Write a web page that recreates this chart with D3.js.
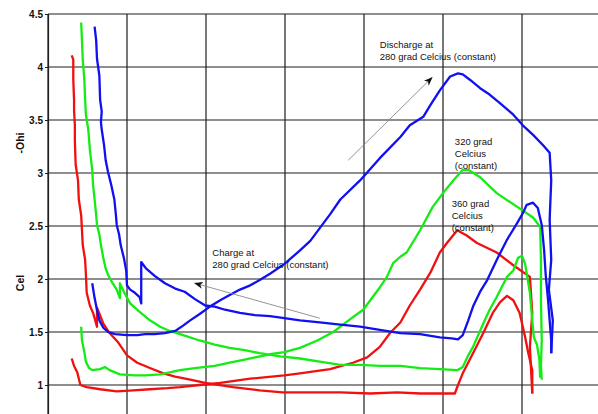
<!DOCTYPE html>
<html>
<head>
<meta charset="utf-8">
<script src="https://cdn.jsdelivr.net/npm/d3@7"></script>
<style>
  body { margin: 0; background: #fff; }
  svg { display: block; font-family: Arial, "Liberation Sans", sans-serif; }
</style>
</head>
<body>
<div id="chart"></div>
<script>
// ── Data (x in grid units, y in cell ohm) ───────────────────────────────────
const blueCharge = [
  [0.59,4.38],[0.61,4.25],[0.62,4.08],[0.65,3.92],[0.66,3.69],[0.68,3.58],[0.67,3.48],
  [0.68,3.41],[0.71,3.26],[0.73,3.12],[0.76,3.01],[0.80,2.89],[0.84,2.75],[0.86,2.60],
  [0.87,2.51],[0.90,2.42],[0.92,2.32],[0.96,2.20],[0.99,2.08],[1.00,1.94],[1.04,1.90],
  [1.10,1.87],[1.16,1.83],[1.18,1.77],[1.18,2.16],[1.24,2.10],[1.35,2.03],[1.48,1.96],
  [1.61,1.91],[1.73,1.88],[1.86,1.81],[1.99,1.75],[2.11,1.74],[2.24,1.71],[2.43,1.68],
  [2.62,1.66],[2.81,1.65],[2.99,1.63],[3.19,1.61],[3.44,1.59],[3.70,1.57],[3.95,1.55],
  [4.20,1.52],[4.46,1.49],[4.71,1.48],[4.96,1.45],[5.11,1.44],[5.19,1.43],[5.25,1.47],
  [5.32,1.61],[5.38,1.74],[5.47,1.88],[5.56,1.99],[5.68,2.18],[5.81,2.37],[5.94,2.53],
  [6.01,2.62],[6.06,2.70],[6.14,2.72],[6.20,2.67],[6.25,2.51],[6.28,2.27],[6.30,2.04],
  [6.33,1.80],[6.35,1.61],[6.37,1.42],[6.37,1.30]
];
const blueDischarge = [
  [0.56,1.96],[0.59,1.82],[0.62,1.71],[0.65,1.61],[0.70,1.54],[0.76,1.50],[0.85,1.48],
  [1.00,1.47],[1.13,1.47],[1.23,1.48],[1.35,1.48],[1.48,1.49],[1.61,1.51],[1.71,1.56],
  [1.80,1.61],[1.92,1.67],[2.05,1.74],[2.18,1.80],[2.30,1.85],[2.43,1.90],[2.56,1.94],
  [2.68,1.99],[2.81,2.05],[2.99,2.14],[3.19,2.27],[3.32,2.36],[3.44,2.48],[3.57,2.61],
  [3.70,2.75],[3.95,2.93],[4.20,3.14],[4.46,3.34],[4.58,3.45],[4.75,3.53],[4.84,3.64],
  [4.96,3.78],[5.09,3.91],[5.19,3.94],[5.25,3.93],[5.34,3.88],[5.47,3.80],[5.59,3.74],
  [5.72,3.66],[5.89,3.55],[6.01,3.45],[6.14,3.36],[6.27,3.26],[6.35,3.19],[6.37,2.93],
  [6.35,2.56],[6.37,2.18],[6.34,1.90],[6.39,1.61],[6.37,1.30]
];
const greenCharge = [
  [0.42,4.42],[0.43,4.25],[0.44,4.07],[0.46,3.88],[0.47,3.69],[0.48,3.55],[0.51,3.41],
  [0.53,3.22],[0.56,3.03],[0.57,2.89],[0.59,2.75],[0.61,2.60],[0.62,2.51],[0.65,2.42],
  [0.67,2.32],[0.70,2.20],[0.73,2.10],[0.76,2.04],[0.81,1.97],[0.87,1.90],[0.91,1.82],
  [0.91,1.96],[0.96,1.88],[1.04,1.77],[1.16,1.69],[1.29,1.61],[1.42,1.55],[1.54,1.51],
  [1.67,1.48],[1.92,1.42],[2.11,1.38],[2.30,1.35],[2.49,1.33],[2.68,1.30],[2.94,1.27],
  [3.19,1.25],[3.44,1.22],[3.70,1.19],[3.95,1.19],[4.20,1.18],[4.46,1.18],[4.71,1.16],
  [4.96,1.15],[5.18,1.14],[5.25,1.17],[5.32,1.28],[5.38,1.36],[5.51,1.58],[5.59,1.71],
  [5.68,1.83],[5.81,2.02],[5.89,2.08],[5.95,2.20],[6.00,2.22],[6.04,2.14],[6.10,1.87],
  [6.13,1.61],[6.15,1.45],[6.19,1.38],[6.22,1.24],[6.23,1.07]
];
const greenDischarge = [
  [0.42,1.55],[0.43,1.42],[0.46,1.31],[0.48,1.22],[0.52,1.16],[0.56,1.14],[0.66,1.15],
  [0.72,1.17],[0.78,1.14],[0.91,1.10],[1.10,1.09],[1.23,1.09],[1.42,1.10],[1.54,1.12],
  [1.67,1.14],[1.86,1.16],[2.11,1.18],[2.30,1.21],[2.49,1.24],[2.62,1.26],[2.81,1.29],
  [2.99,1.31],[3.19,1.35],[3.41,1.42],[3.61,1.50],[3.86,1.64],[3.99,1.71],[4.08,1.80],
  [4.20,1.92],[4.29,2.02],[4.37,2.15],[4.46,2.21],[4.54,2.25],[4.71,2.46],[4.87,2.68],
  [5.00,2.81],[5.13,2.93],[5.25,3.03],[5.32,3.03],[5.47,2.96],[5.68,2.81],[5.94,2.68],
  [6.14,2.58],[6.23,2.49],[6.24,2.18],[6.24,1.80],[6.25,1.42],[6.24,1.19],[6.25,1.05]
];
const redCharge = [
  [0.30,4.11],[0.32,4.07],[0.32,3.88],[0.33,3.69],[0.33,3.59],[0.34,3.45],[0.34,3.31],
  [0.35,3.08],[0.38,2.93],[0.39,2.75],[0.42,2.60],[0.43,2.46],[0.44,2.32],[0.47,2.18],
  [0.48,2.04],[0.49,1.87],[0.53,1.75],[0.57,1.68],[0.59,1.63],[0.62,1.55],[0.62,1.73],
  [0.70,1.58],[0.78,1.49],[0.89,1.40],[1.00,1.28],[1.13,1.21],[1.29,1.16],[1.46,1.11],
  [1.61,1.08],[1.80,1.05],[1.99,1.02],[2.34,0.98],[2.68,0.95],[2.97,0.93],[3.44,0.93],
  [3.70,0.93],[4.08,0.92],[4.42,0.93],[4.71,0.92],[4.96,0.92],[5.15,0.92],[5.19,1.00],
  [5.25,1.11],[5.38,1.30],[5.51,1.49],[5.63,1.68],[5.72,1.78],[5.81,1.84],[5.89,1.80],
  [5.97,1.68],[6.04,1.45],[6.08,1.30],[6.13,1.14],[6.13,0.92]
];
const redDischarge = [
  [0.30,1.25],[0.33,1.18],[0.37,1.12],[0.41,1.00],[0.49,0.98],[0.66,0.96],[0.87,0.94],
  [1.08,0.95],[1.29,0.96],[1.51,0.97],[1.67,0.98],[1.92,1.00],[2.18,1.02],[2.56,1.06],
  [2.99,1.09],[3.19,1.11],[3.57,1.15],[3.86,1.21],[4.04,1.26],[4.20,1.36],[4.33,1.49],
  [4.46,1.59],[4.58,1.75],[4.71,1.90],[4.84,2.06],[4.96,2.25],[5.05,2.34],[5.18,2.46],
  [5.30,2.41],[5.43,2.34],[5.68,2.25],[5.89,2.13],[6.10,2.02],[6.13,1.68],[6.10,1.36],
  [6.13,0.92]
];

const yTicks = [1, 1.5, 2, 2.5, 3, 3.5, 4, 4.5];
const xGrid  = [0, 1, 2, 3, 4, 5, 6, 7];
const yGrid  = [0.5, 1, 1.5, 2, 2.5, 3, 3.5, 4, 4.5];

// annotation texts, anchored in data units
const notes = [
  { x: 4.20, y: 4.175, lines: ['Discharge at', '280 grad Celcius (constant)'] },
  { x: 2.08, y: 2.22,  lines: ['Charge at', '280 grad Celcius (constant)'] },
  { x: 5.15, y: 3.26,  lines: ['320 grad', 'Celcius', '(constant)'] },
  { x: 5.11, y: 2.68,  lines: ['360 grad', 'Celcius', '(constant)'] },
];
const arrows = [
  { from: [3.80, 3.12], to: [4.86, 3.90] },
  { from: [3.44, 1.63], to: [1.86, 1.96] },
];

const series = [
  { data: redDischarge,   color: '#f01010' },
  { data: redCharge,      color: '#f01010' },
  { data: greenDischarge, color: '#14ec14' },
  { data: greenCharge,    color: '#14ec14' },
  { data: blueDischarge,  color: '#1010f0' },
  { data: blueCharge,     color: '#1010f0' },
];

// ── Layout ──────────────────────────────────────────────────────────────────
const W = 598, H = 414;
const x = d3.scaleLinear().domain([0, 7]).range([48, 601]);
const y = d3.scaleLinear().domain([0.5, 4.5]).range([438, 14]);

const svg = d3.select('#chart').append('svg').attr('width', W).attr('height', H);
svg.append('rect').attr('width', W).attr('height', H).attr('fill', '#fff');

// ── Grid ────────────────────────────────────────────────────────────────────
svg.append('g').selectAll('line').data(xGrid).join('line')
  .attr('x1', d => x(d)).attr('x2', d => x(d))
  .attr('y1', y(4.5)).attr('y2', y(0.5))
  .attr('stroke', '#1e1e1e').attr('stroke-width', 1.2);
svg.append('g').selectAll('line').data(yGrid).join('line')
  .attr('x1', x(0)).attr('x2', x(7))
  .attr('y1', d => y(d)).attr('y2', d => y(d))
  .attr('stroke', '#1e1e1e').attr('stroke-width', 1.2);

// ── Curves ──────────────────────────────────────────────────────────────────
const line = d3.line().x(d => x(d[0])).y(d => y(d[1]));
svg.append('g').selectAll('path').data(series).join('path')
  .attr('d', d => line(d.data))
  .attr('fill', 'none')
  .attr('stroke', d => d.color)
  .attr('stroke-width', 2.3)
  .attr('stroke-linejoin', 'round');

// ── Y axis ──────────────────────────────────────────────────────────────────
svg.append('g').attr('transform', `translate(${x(0)},0)`)
  .call(d3.axisLeft(y).tickValues(yTicks).tickSize(3).tickPadding(2).tickFormat(d3.format('~g')))
  .call(a => a.select('.domain').attr('stroke', '#1e1e1e').attr('stroke-width', 1.2))
  .call(a => a.selectAll('line').attr('stroke', '#1e1e1e'))
  .call(a => a.selectAll('text')
    .attr('fill', '#111').attr('font-size', 10).attr('font-weight', 'bold')
    .attr('font-family', 'Arial, "Liberation Sans", sans-serif'));

// rotated y title (split in the source image)
[['-Ohi', 143], ['Cel', 283]].forEach(([t, cy]) => {
  svg.append('text')
    .attr('transform', `translate(24,${cy}) rotate(-90)`)
    .attr('text-anchor', 'middle')
    .attr('font-size', 10.5).attr('font-weight', 'bold').attr('fill', '#111')
    .text(t);
});

// ── Annotations ─────────────────────────────────────────────────────────────
svg.append('defs').append('marker')
  .attr('id', 'ah').attr('viewBox', '0 -4 9 8')
  .attr('refX', 8).attr('refY', 0)
  .attr('markerWidth', 9).attr('markerHeight', 8)
  .attr('markerUnits', 'userSpaceOnUse')
  .attr('orient', 'auto')
  .append('path').attr('d', 'M0,-3.5L9,0L0,3.5L2.5,0Z').attr('fill', '#111');

svg.append('g').selectAll('line').data(arrows).join('line')
  .attr('x1', d => x(d.from[0])).attr('y1', d => y(d.from[1]))
  .attr('x2', d => x(d.to[0])).attr('y2', d => y(d.to[1]))
  .attr('stroke', '#888').attr('stroke-width', 0.9)
  .attr('marker-end', 'url(#ah)');

notes.forEach(n => {
  const t = svg.append('text')
    .attr('x', x(n.x)).attr('y', y(n.y))
    .attr('font-size', 9.5).attr('fill', '#111');
  n.lines.forEach((s, i) => t.append('tspan')
    .attr('x', x(n.x)).attr('dy', i === 0 ? 0 : 12).text(s));
});
</script>
</body>
</html>
